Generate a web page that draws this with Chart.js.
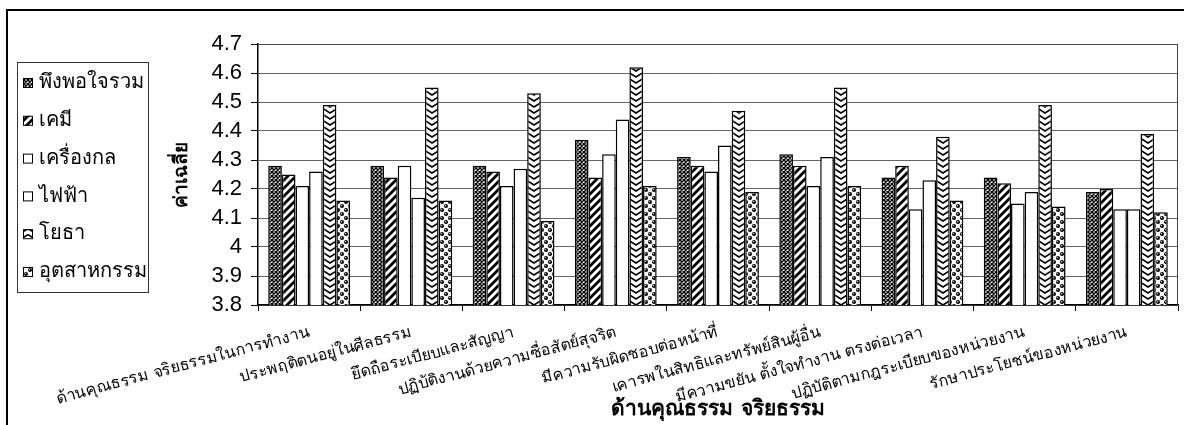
<!DOCTYPE html>
<html>
<head>
<meta charset="utf-8">
<script src="https://cdn.jsdelivr.net/npm/chart.js@4.4.0/dist/chart.umd.min.js"></script>
<style>
  body { margin: 0; background: #fff; }
  canvas { display: block; }
</style>
</head>
<body>
<canvas id="chart" width="1184" height="425"></canvas>
<script>
const categories = [
    "ด้านคุณธรรม จริยธรรมในการทำงาน",
    "ประพฤติตนอยู่ในศีลธรรม",
    "ยึดถือระเบียบและสัญญา",
    "ปฏิบัติงานด้วยความซื่อสัตย์สุจริต",
    "มีความรับผิดชอบต่อหน้าที่",
    "เคารพในสิทธิและทรัพย์สินผู้อื่น",
    "มีความขยัน ตั้งใจทำงาน ตรงต่อเวลา",
    "ปฏิบัติตามกฎระเบียบของหน่วยงาน",
    "รักษาประโยชน์ของหน่วยงาน"
];
const seriesNames = ["พึงพอใจรวม", "เคมี", "เครื่องกล", "ไฟฟ้า", "โยธา", "อุตสาหกรรม"];
const satisfied  = [4.28, 4.28, 4.28, 4.37, 4.31, 4.32, 4.24, 4.24, 4.19];
const chemical   = [4.25, 4.24, 4.26, 4.24, 4.28, 4.28, 4.28, 4.22, 4.20];
const mechanical = [4.21, 4.28, 4.21, 4.32, 4.26, 4.21, 4.13, 4.15, 4.13];
const electrical = [4.26, 4.17, 4.27, 4.44, 4.35, 4.31, 4.23, 4.19, 4.13];
const civil      = [4.49, 4.55, 4.53, 4.62, 4.47, 4.55, 4.38, 4.49, 4.39];
const industrial = [4.16, 4.16, 4.09, 4.21, 4.19, 4.21, 4.16, 4.14, 4.12];
const yMin = 3.8, yMax = 4.7, yStep = 0.1;
const yTitle = "ค่าเฉลี่ย";
const xTitle = "ด้านคุณธรรม จริยธรรม";

const thaiFont = "Tahoma, 'DejaVu Sans', 'Noto Sans', sans-serif";
const CAT_PCT = 0.8;

function makeTile(w, h, draw) {
    let c = document.createElement("canvas");
    c.width = w; c.height = h;
    let g = c.getContext("2d");
    g.fillStyle = "#fff";
    g.fillRect(0, 0, w, h);
    g.strokeStyle = "#000";
    g.fillStyle = "#000";
    draw(g);
    return c;
}

let pctx = document.getElementById("chart").getContext("2d");

let crossTile = makeTile(4, 4, g => {
    g.lineWidth = 1.4;
    g.beginPath();
    g.moveTo(0, 0); g.lineTo(4, 4);
    g.moveTo(4, 0); g.lineTo(0, 4);
    g.stroke();
});
let stripeTile = makeTile(8, 8, g => {
    g.lineWidth = 2.8;
    g.beginPath();
    g.moveTo(-2, 10); g.lineTo(10, -2);
    g.moveTo(-6, 6); g.lineTo(6, -6);
    g.moveTo(2, 14); g.lineTo(14, 2);
    g.stroke();
});
let chevronTile = makeTile(14, 6, g => {
    g.lineWidth = 1.5;
    g.beginPath();
    g.moveTo(0, 0.5); g.lineTo(7, 5); g.lineTo(14, 0.5);
    g.stroke();
});
let dotTile = makeTile(8, 8, g => {
    [[2, 2], [6, 6]].forEach(([x, y]) => {
        g.fillStyle = "#000";
        g.beginPath();
        g.arc(x, y, 2, 0, Math.PI * 2);
        g.fill();
        g.fillStyle = "#fff";
        g.beginPath();
        g.arc(x - 0.4, y - 0.4, 0.7, 0, Math.PI * 2);
        g.fill();
    });
});

let crossFill = pctx.createPattern(crossTile, "repeat");
let stripeFill = pctx.createPattern(stripeTile, "repeat");
let dotFill = pctx.createPattern(dotTile, "repeat");
let chevronPlain = pctx.createPattern(chevronTile, "repeat");

// chevrons lined up with the left edge of each bar
function chevronFill(c) {
    if (c.type !== "data") return chevronPlain;
    let xs = c.chart.scales.x;
    let n = c.chart.data.datasets.length;
    let catW = xs.getPixelForValue(1) - xs.getPixelForValue(0);
    let left = xs.getPixelForValue(c.dataIndex) - catW * CAT_PCT / 2 + c.datasetIndex * catW * CAT_PCT / n;
    let p = c.chart.ctx.createPattern(chevronTile, "repeat");
    p.setTransform(new DOMMatrix([1, 0, 0, 1, Math.round(left), 0]));
    return p;
}

const values = [satisfied, chemical, mechanical, electrical, civil, industrial];
const fills = [crossFill, stripeFill, "#fff", "#fff", chevronFill, dotFill];
const legendFills = [crossFill, stripeFill, "#fff", "#fff", chevronPlain, dotFill];

const framePlugin = {
    id: "frame",
    beforeDraw(chart) {
        let ctx = chart.ctx;
        ctx.save();
        ctx.fillStyle = "#fff";
        ctx.fillRect(0, 0, chart.width, chart.height);
        ctx.strokeStyle = "#000";
        ctx.lineWidth = 2;
        ctx.beginPath();
        ctx.moveTo(7, chart.height + 5);
        ctx.lineTo(7, 10);
        ctx.lineTo(chart.width + 5, 10);
        ctx.stroke();
        ctx.restore();
    },
    afterDraw(chart) {
        let ctx = chart.ctx;
        let a = chart.chartArea;
        ctx.save();
        ctx.strokeStyle = "#444";
        ctx.lineWidth = 1;
        ctx.beginPath();
        ctx.moveTo(a.left, a.top + 0.5);
        ctx.lineTo(a.right - 0.5, a.top + 0.5);
        ctx.lineTo(a.right - 0.5, a.bottom);
        ctx.stroke();

        // legend box
        ctx.strokeStyle = "#333";
        ctx.strokeRect(17.5, 62.5, 131, 230);
        ctx.font = "20px " + thaiFont;
        ctx.textBaseline = "middle";
        ctx.textAlign = "left";
        chart.data.datasets.forEach((ds, i) => {
            let cy = 83 + i * 37.8;
            ctx.fillStyle = legendFills[i];
            ctx.fillRect(23, cy - 5, 10, 10);
            ctx.strokeStyle = "#000";
            ctx.lineWidth = 1;
            ctx.strokeRect(23.5, cy - 4.5, 9, 9);
            ctx.fillStyle = "#000";
            ctx.fillText(ds.label, 39, cy);
        });
        ctx.restore();
    }
};

new Chart(document.getElementById("chart"), {
    type: "bar",
    data: {
        labels: categories,
        datasets: seriesNames.map((name, i) => ({
            label: name,
            data: values[i],
            backgroundColor: fills[i],
            borderColor: "#000",
            borderWidth: 1.5,
            categoryPercentage: CAT_PCT,
            barPercentage: 1.0
        }))
    },
    options: {
        responsive: false,
        animation: false,
        devicePixelRatio: 1,
        layout: { padding: { left: 168, top: 44, right: 6, bottom: 0 } },
        plugins: {
            legend: { display: false },
            tooltip: { enabled: false }
        },
        scales: {
            x: {
                afterFit: s => { s.height = 120; },
                grid: {
                    drawOnChartArea: false,
                    offset: true,
                    tickLength: 6,
                    color: "#000"
                },
                border: { color: "#000", width: 1.5 },
                ticks: {
                    autoSkip: false,
                    minRotation: 15,
                    maxRotation: 15,
                    padding: 12,
                    color: "#000",
                    font: { family: thaiFont, size: 16 }
                },
                title: {
                    display: true,
                    text: xTitle,
                    color: "#000",
                    padding: { top: 0, bottom: 3 },
                    font: { family: thaiFont, size: 21, weight: "bold" }
                }
            },
            y: {
                min: yMin,
                max: yMax,
                afterFit: s => { s.width = 90; },
                grid: {
                    color: "#666",
                    borderDash: [12, 4, 3, 4],
                    tickLength: 7,
                    tickColor: "#000",
                    tickBorderDash: []
                },
                border: { color: "#000", width: 1.5 },
                ticks: {
                    stepSize: yStep,
                    autoSkip: false,
                    padding: 9,
                    color: "#000",
                    font: { family: "Arial, 'Liberation Sans', sans-serif", size: 22, lineHeight: 1 },
                    callback: v => String(Number(v.toFixed(2)))
                },
                title: {
                    display: true,
                    text: yTitle,
                    color: "#000",
                    padding: { top: 3, bottom: 0 },
                    font: { family: thaiFont, size: 19, weight: "bold" }
                }
            }
        }
    },
    plugins: [framePlugin]
});
</script>
</body>
</html>
